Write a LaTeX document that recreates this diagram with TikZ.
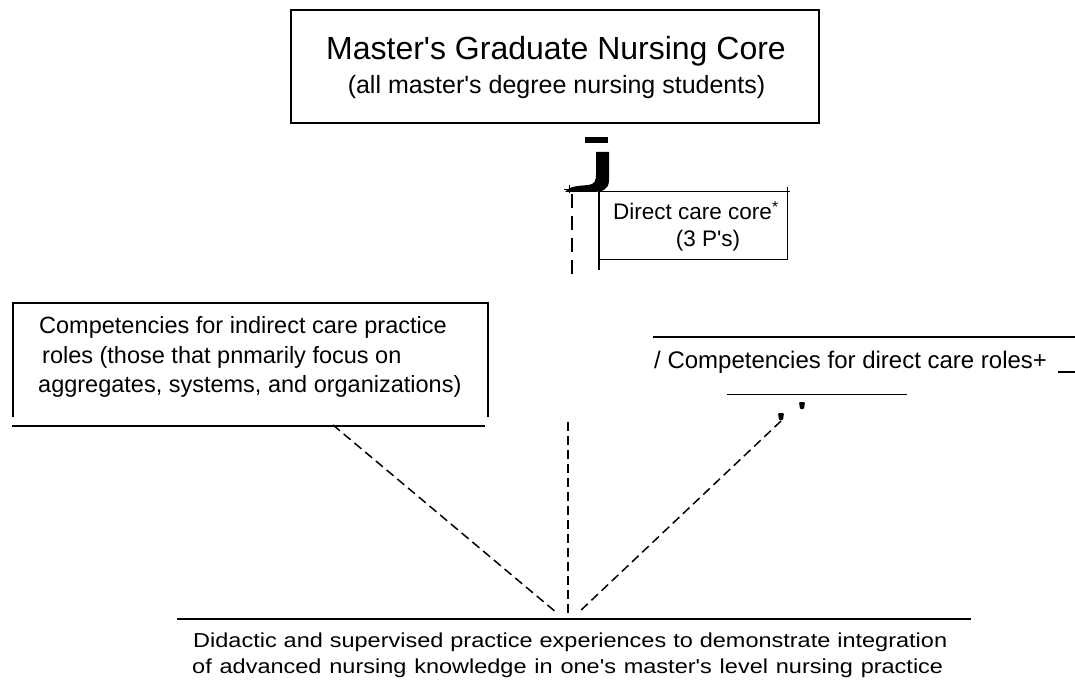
\documentclass[tikz,border=0pt]{standalone}
\usepackage{fontspec}
\setmainfont{Liberation Sans}[Ligatures=TeXOff]
\usetikzlibrary{positioning}

\begin{document}
\begin{tikzpicture}[
          x=1pt, y=-1pt,
          rule/.style={line width=1.3pt},
          thin rule/.style={line width=0.9pt},
          link/.style={line width=1.5pt, dash pattern=on 9pt off 5pt},
          txt/.style={inner sep=0pt, anchor=base west},
          ctxt/.style={inner sep=0pt, anchor=base}
        ]
        \useasboundingbox (0,0) rectangle (1075,684);

        % Core box
        \node[draw, line width=1.5pt, minimum width=528pt, minimum height=113pt, inner sep=0pt] (core) at (555,66.5) {};
        \node[ctxt, font=\fontsize{32}{38}\selectfont] (title) at (556,60) {Master's Graduate Nursing Core};
        \node[ctxt, font=\fontsize{25}{30}\selectfont] (sub) at (556.5,94) {(all master's degree nursing students)};

        % Mark under the core box
        \fill (585,137) rectangle (608,143);
        \fill (596,152) -- (609,152) -- (609,180) .. controls (609,190) and (602,192) .. (592,192)
              -- (565,192) .. controls (569,186) and (578,186) .. (588,185)
              .. controls (595,184) and (596,181) .. (596,174) -- cycle;
        \draw[thin rule] (564,189) -- (574,189);
        \draw[thin rule] (569,185) -- (569,193);
        \coordinate (j-top) at (572,194);
        \coordinate (j-end) at (572,274);
        \draw[line width=2pt, dash pattern=on 14pt off 8pt] (j-top) -- (j-end);

        % Direct care core
        \draw[rule] (599,188) -- (599,270);
        \draw[thin rule] (599,191) -- (790,191);
        \draw[thin rule] (599,259) -- (788,259);
        \draw[thin rule] (787,187) -- (787,260);
        \node[txt, font=\fontsize{22.5}{27}\selectfont] (direct) at (613,220) {Direct care core\textsuperscript{*}};
        \node[ctxt, font=\fontsize{22.5}{27}\selectfont] (ps) at (708,247) {(3 P's)};

        % Indirect care box
        \draw[rule] (13,417) -- (13,303) -- (488,303) -- (488,417);
        \draw[rule] (12,426) -- (485,426);
        \node[txt, font=\fontsize{23.5}{29.5}\selectfont] (ind1) at (39,333) {Competencies for indirect care practice};
        \node[txt, font=\fontsize{23.5}{29.5}\selectfont] (ind2) at (42,363) {roles (those that pnmarily focus on};
        \node[txt, font=\fontsize{23.5}{29.5}\selectfont] (ind3) at (38,392) {aggregates, systems, and organizations)};

        % Direct care roles
        \draw[rule] (653,337) -- (1075,337);
        \node[txt, font=\fontsize{24}{29}\selectfont] (roles) at (654,368) {/ Competencies for direct care roles+};
        \draw[rule] (1058,372) -- (1075,372);
        \draw[thin rule] (727,394) -- (907,394);
        \fill[rounded corners=1pt] (778,413) -- (784,413) -- (783,420) -- (779,420) -- cycle;
        \fill[rounded corners=1pt] (799,402) -- (805,402) -- (804,409) -- (800,409) -- cycle;

        % Practice
        \draw[rule] (177,619) -- (971,619);
        \node[txt, font=\fontsize{23.5}{26}\selectfont] (prac1) at (193,647)
          {\scalebox{1}[0.86]{\makebox[754pt][s]{Didactic and supervised practice experiences to demonstrate integration}}};
        \node[txt, font=\fontsize{23.5}{26}\selectfont] (prac2) at (192,673)
          {\scalebox{1}[0.86]{\makebox[751pt][s]{of advanced nursing knowledge in one's master's level nursing practice}}};

        % Dashed links
        \coordinate (ind-out) at (333,425);
        \coordinate (mid-in) at (568,422);
        \coordinate (roles-out) at (781,421);
        \coordinate (in-left) at (557,613);
        \coordinate (in-mid) at (568,613);
        \coordinate (in-right) at (578,613);
        \draw[link] (ind-out) -- (in-left);
        \draw[link] (mid-in) -- (in-mid);
        \draw[link] (roles-out) -- (in-right);

      \end{tikzpicture}
\end{document}
